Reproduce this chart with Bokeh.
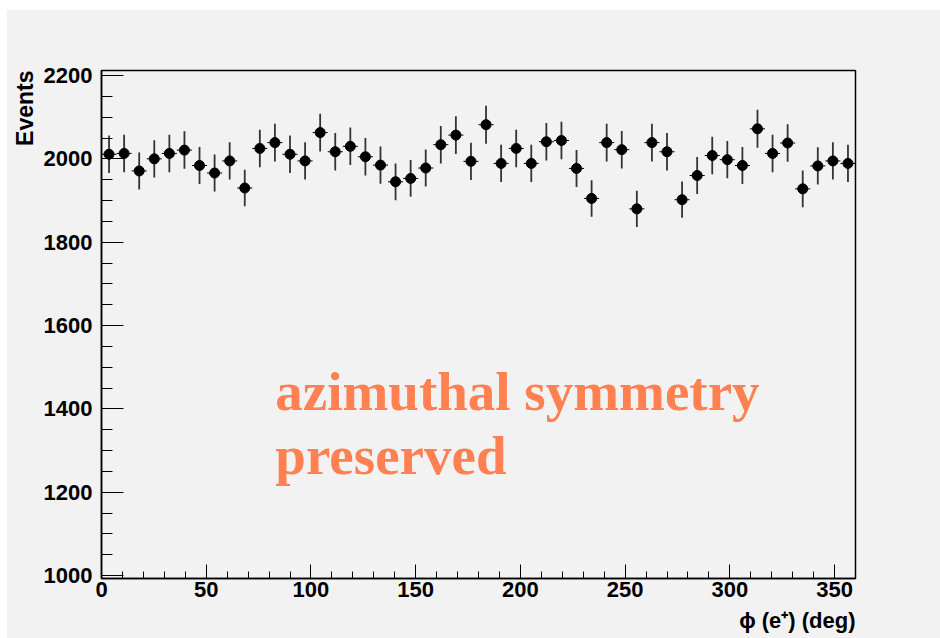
import numpy as np
from bokeh.plotting import figure
from bokeh.models import Range1d, SingleIntervalTicker, Label, Title
from bokeh.embed import file_html
from bokeh.resources import INLINE

# Azimuthal angle of the positron: 50 bins over 0-360 degrees
phi_min, phi_max, n_bins = 0.0, 360.0, 50
events = [2011, 2013, 1971, 2000, 2013, 2021, 1984, 1966, 1995, 1930,
          2025, 2039, 2011, 1995, 2063, 2017, 2030, 2005, 1985, 1945,
          1953, 1978, 2034, 2057, 1994, 2082, 1989, 2025, 1989, 2041,
          2044, 1977, 1905, 2039, 2022, 1880, 2039, 2017, 1902, 1960,
          2008, 1998, 1984, 2072, 2013, 2038, 1928, 1983, 1995, 1989]

edges = np.linspace(phi_min, phi_max, n_bins + 1)
centers = 0.5 * (edges[:-1] + edges[1:])
half_w = 0.5 * (edges[1] - edges[0])
counts = np.array(events, dtype=float)
errs = np.sqrt(counts)

BG = "#f2f2f2"
FONT = "Liberation Sans"

p = figure(width=934, height=629, output_backend="svg", toolbar_location=None,
           x_range=Range1d(phi_min, phi_max), y_range=Range1d(993, 2212),
           min_border_left=95, min_border_right=85, min_border_top=61,
           min_border_bottom=60)
p.margin = (9, 0, 0, 6)
p.background_fill_color = BG
p.border_fill_color = BG
p.outline_line_color = "black"
p.outline_line_width = 1.5
p.xgrid.visible = False
p.ygrid.visible = False

for ax in (p.xaxis[0], p.yaxis[0]):
    ax.axis_line_color = "black"
    ax.axis_line_width = 1.5
    ax.major_tick_line_color = "black"
    ax.minor_tick_line_color = "black"
    ax.major_tick_out = 0
    ax.minor_tick_out = 0
    ax.major_label_text_font = FONT
    ax.major_label_text_font_style = "bold"
    ax.major_label_text_font_size = "22px"
    ax.major_label_text_color = "black"

p.xaxis.ticker = SingleIntervalTicker(interval=50, num_minor_ticks=5)
p.xaxis.major_tick_in = 14
p.xaxis.minor_tick_in = 7
p.xaxis.major_label_standoff = 3

p.yaxis.ticker = SingleIntervalTicker(interval=200, num_minor_ticks=4)
p.yaxis.major_tick_in = 22
p.yaxis.minor_tick_in = 11
p.yaxis.major_label_standoff = 9

# error bars: bin width horizontally, sqrt(N) vertically
p.segment(x0=centers - half_w, x1=centers + half_w, y0=counts, y1=counts,
          line_color="black", line_width=1)
p.segment(x0=centers, x1=centers, y0=counts - errs, y1=counts + errs,
          line_color="#333333", line_width=1.8)
p.scatter(centers, counts, marker="circle", size=10, fill_color="black",
          line_color="black")

# axis titles, aligned to the far ends of the axes
p.add_layout(Title(text="Events", align="right", text_font=FONT,
                   text_font_style="bold", text_font_size="23px",
                   text_color="black", standoff=6), "left")
p.add_layout(Title(text="ϕ (e⁺) (deg)", align="right", text_font=FONT,
                   text_font_style="bold", text_font_size="22px",
                   text_color="black", standoff=12), "below")

# annotation inside the frame
for line, yb in (("azimuthal symmetry", 1441), ("preserved", 1289)):
    p.add_layout(Label(x=83, y=yb, text=line, text_align="left",
                       text_baseline="alphabetic",
                       text_font="Liberation Serif", text_font_style="bold",
                       text_font_size="55px", text_color="#ff8050"))

open("out.html", "w").write(file_html(p, INLINE))
